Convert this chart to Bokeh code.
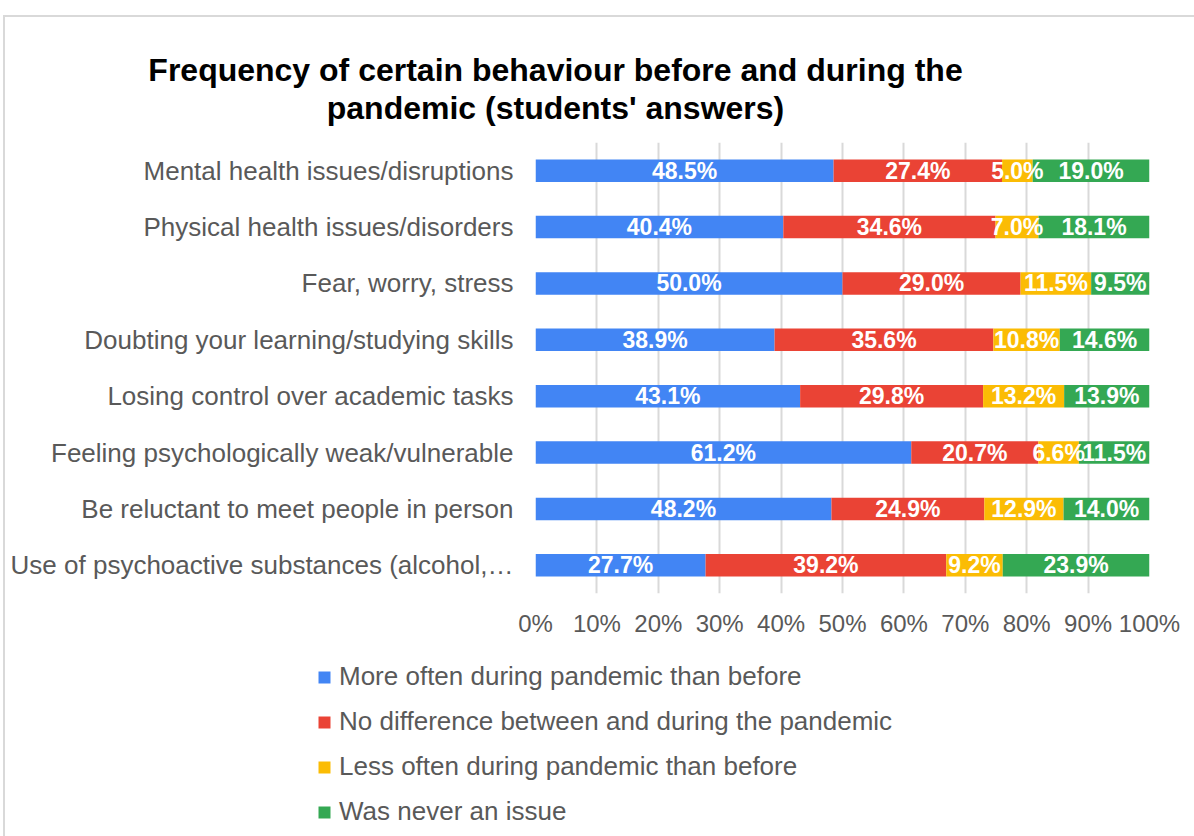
from bokeh.plotting import figure
from bokeh.layouts import column
from bokeh.models import (Range1d, ColumnDataSource, Legend, LegendItem, Label,
                          FixedTicker, PrintfTickFormatter)
from bokeh.core.properties import value
from bokeh.embed import file_html
from bokeh.resources import INLINE

title_lines = ["Frequency of certain behaviour before and during the",
               "pandemic (students' answers)"]
categories = [
    "Mental health issues/disruptions",
    "Physical health issues/disorders",
    "Fear, worry, stress",
    "Doubting your learning/studying skills",
    "Losing control over academic tasks",
    "Feeling psychologically weak/vulnerable",
    "Be reluctant to meet people in person",
    "Use of psychoactive substances (alcohol,\u2026",
]
series_names = [
    "More often during pandemic than before",
    "No difference between and during the pandemic",
    "Less often during pandemic than before",
    "Was never an issue",
]
more_often = [48.5, 40.4, 50.0, 38.9, 43.1, 61.2, 48.2, 27.7]
no_difference = [27.4, 34.6, 29.0, 35.6, 29.8, 20.7, 24.9, 39.2]
less_often = [5.0, 7.0, 11.5, 10.8, 13.2, 6.6, 12.9, 9.2]
never_issue = [19.0, 18.1, 9.5, 14.6, 13.9, 11.5, 14.0, 23.9]
x_ticks = [0, 10, 20, 30, 40, 50, 60, 70, 80, 90, 100]
colors = ["#4285F4", "#EA4335", "#FBBC04", "#34A853"]

series = [more_often, no_difference, less_often, never_issue]

FONT = "Liberation Sans"
GREY = "#595959"
W = 1194
TH, MH, LH = 138, 512, 186          # title / main / legend strip heights


def bare(fig):
    fig.outline_line_color = None
    fig.border_fill_color = None
    fig.background_fill_color = None
    fig.grid.visible = False
    fig.frame_align = False
    return fig


# ---------- title strip ----------
tf = figure(width=W, height=TH, output_backend="svg", toolbar_location=None,
            x_range=Range1d(0, W), y_range=Range1d(TH, 0), min_border=0,
            x_axis_location=None, y_axis_location=None, title=None)
bare(tf)
for txt, base in zip(title_lines, [69.5, 107.5]):
    tf.add_layout(Label(x=555, y=base, text=txt, text_align="center",
                        text_baseline="alphabetic", text_font=FONT,
                        text_font_style="bold", text_font_size="32px",
                        text_color="black"))

# ---------- main chart ----------
n = len(categories)
ypos = [n - 0.5 - i for i in range(n)]   # first category at top

p = figure(width=W, height=MH, output_backend="svg", toolbar_location=None,
           x_range=Range1d(0, 100), y_range=Range1d(0, n), title=None,
           min_border_left=535, min_border_right=45, min_border_top=142 - TH,
           min_border_bottom=57)
p.outline_line_color = None
p.background_fill_color = "white"
p.border_fill_color = None

totals = [sum(s[i] for s in series) for i in range(n)]
label_x, label_y, label_t = [], [], []
cum = [0.0] * n
for s, c in zip(series, colors):
    left = list(cum)
    right = [cum[i] + s[i] / totals[i] * 100 for i in range(n)]
    cum = right
    src = ColumnDataSource(dict(y=ypos, left=left, right=right))
    p.hbar(y="y", left="left", right="right", height=0.4, source=src,
           fill_color=c, line_color=None)
    for i in range(n):
        label_x.append((left[i] + right[i]) / 2)
        label_y.append(ypos[i])
        label_t.append(f"{s[i]:.1f}%")

lsrc = ColumnDataSource(dict(x=label_x, y=label_y, t=label_t))
p.text(x="x", y="y", text="t", source=lsrc, text_color="white",
       text_font=value(FONT), text_font_style="bold", text_font_size="23px",
       text_align="center", text_baseline="middle")

p.xgrid.ticker = FixedTicker(ticks=x_ticks)
p.xgrid.grid_line_color = "#d9d9d9"
p.xgrid.grid_line_width = 2
p.ygrid.grid_line_color = None

xa = p.xaxis[0]
xa.ticker = FixedTicker(ticks=x_ticks)
xa.formatter = PrintfTickFormatter(format="%d%%")
xa.axis_line_color = None
xa.major_tick_line_color = None
xa.minor_tick_line_color = None
xa.major_tick_out = 0
xa.major_tick_in = 0
xa.major_label_standoff = 16
xa.major_label_text_font = FONT
xa.major_label_text_font_size = "24px"
xa.major_label_text_color = GREY

ya = p.yaxis[0]
ya.ticker = FixedTicker(ticks=ypos)
ya.major_label_overrides = {y: c for y, c in zip(ypos, categories)}
ya.axis_line_color = None
ya.major_tick_line_color = None
ya.minor_tick_line_color = None
ya.major_tick_out = 0
ya.major_tick_in = 0
ya.major_label_standoff = 22
ya.major_label_text_font = FONT
ya.major_label_text_font_size = "26px"
ya.major_label_text_color = GREY

# ---------- legend strip ----------
lf = figure(width=W, height=LH, output_backend="svg", toolbar_location=None,
            x_range=Range1d(0, 1), y_range=Range1d(0, 1), title=None,
            min_border_left=309, min_border_top=11, min_border_right=0, min_border_bottom=0,
            x_axis_location=None, y_axis_location=None)
bare(lf)
items = []
for nm, c in zip(series_names, colors):
    # swatch renderer (its single point lies outside the visible range)
    r = lf.scatter(x=[-5], y=[-5], marker="square", size=12, fill_color=c, line_color=None)
    items.append(LegendItem(label=nm, renderers=[r]))
legend = Legend(items=items, orientation="vertical", location="top_left",
                glyph_width=30, glyph_height=30, label_standoff=0, label_height=30,
                label_text_font=FONT, label_text_font_size="26px", label_text_color=GREY,
                spacing=14, padding=0, margin=0, border_line_color=None,
                background_fill_alpha=0)
lf.add_layout(legend)

layout = column(tf, p, lf, spacing=0, styles={
    "background": "linear-gradient(#d9d9d9,#d9d9d9) 3px 15px / 2px 2000px no-repeat, "
                  "linear-gradient(#d9d9d9,#d9d9d9) 3px 15px / 2000px 2px no-repeat, #ffffff"})

open("out.html", "w").write(file_html(layout, INLINE))
